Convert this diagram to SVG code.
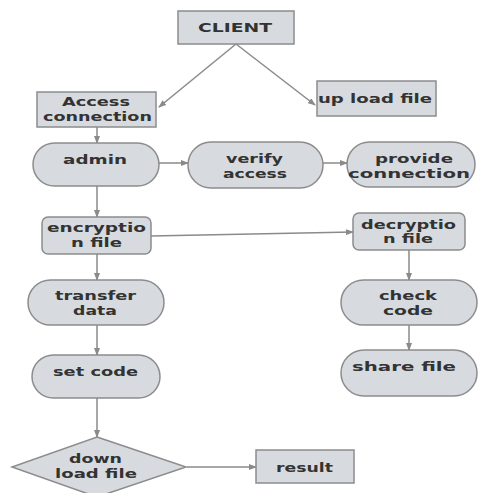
<svg xmlns="http://www.w3.org/2000/svg" width="479" height="493" viewBox="0 0 479 493">
<defs>
<marker id="ah" markerWidth="8" markerHeight="6" refX="7" refY="3" orient="auto" markerUnits="userSpaceOnUse">
<path d="M0,0 L8,3 L0,6 Z" fill="#8a8a8a"/>
</marker>
<style>
.n{fill:#d7dbdf;stroke:#8c8c8c;stroke-width:1.5}
.t{font-family:"DejaVu Sans",sans-serif;font-weight:bold;font-size:12.5px;fill:#333}
.c{stroke:#8a8a8a;stroke-width:1.5;fill:none;marker-end:url(#ah)}
</style>
</defs>
<rect width="479" height="493" fill="#fff"/>
<g id="connectors">
<line class="c" x1="236" y1="44" x2="159" y2="107"/>
<line class="c" x1="236" y1="44" x2="315" y2="105"/>
<line class="c" x1="97" y1="127" x2="97" y2="143"/>
<line class="c" x1="159" y1="163" x2="188" y2="163"/>
<line class="c" x1="323" y1="163" x2="347" y2="163"/>
<line class="c" x1="97" y1="186" x2="97" y2="217"/>
<line class="c" x1="151" y1="236" x2="353" y2="232"/>
<line class="c" x1="97" y1="254" x2="97" y2="280"/>
<line class="c" x1="409" y1="250" x2="409" y2="280"/>
<line class="c" x1="97" y1="325" x2="97" y2="355"/>
<line class="c" x1="409" y1="325" x2="409" y2="350"/>
<line class="c" x1="97" y1="398" x2="97" y2="437"/>
<line class="c" x1="187" y1="467" x2="256" y2="467"/>
</g>
<g id="client">
<rect class="n" x="178" y="11" width="116" height="33"/>
<text class="t" x="198" y="32" textLength="74" lengthAdjust="spacingAndGlyphs">CLIENT</text>
</g>
<g id="access-connection">
<rect class="n" x="37" y="92" width="119" height="35"/>
<text class="t" x="62" y="106" textLength="68" lengthAdjust="spacingAndGlyphs">Access</text>
<text class="t" x="43" y="121" textLength="109" lengthAdjust="spacingAndGlyphs">connection</text>
</g>
<g id="upload-file">
<rect class="n" x="317" y="81" width="119" height="35"/>
<text class="t" x="318" y="103" textLength="114" lengthAdjust="spacingAndGlyphs">up load file</text>
</g>
<g id="admin">
<rect class="n" x="33" y="143" width="126" height="43" rx="21.5"/>
<text class="t" x="63" y="164" textLength="64" lengthAdjust="spacingAndGlyphs">admin</text>
</g>
<g id="verify-access">
<rect class="n" x="188" y="142" width="135" height="46" rx="23"/>
<text class="t" x="226" y="163" textLength="57" lengthAdjust="spacingAndGlyphs">verify</text>
<text class="t" x="223" y="178" textLength="64" lengthAdjust="spacingAndGlyphs">access</text>
</g>
<g id="provide-connection">
<rect class="n" x="347" y="142" width="128" height="45" rx="22.5"/>
<text class="t" x="375" y="163" textLength="78" lengthAdjust="spacingAndGlyphs">provide</text>
<text class="t" x="348" y="178" textLength="122" lengthAdjust="spacingAndGlyphs">connection</text>
</g>
<g id="encryption-file">
<rect class="n" x="42" y="217" width="109" height="37" rx="6"/>
<text class="t" x="47" y="232" textLength="99" lengthAdjust="spacingAndGlyphs">encryptio</text>
<text class="t" x="71" y="247" textLength="51" lengthAdjust="spacingAndGlyphs">n file</text>
</g>
<g id="decryption-file">
<rect class="n" x="353" y="213" width="112" height="37" rx="6"/>
<text class="t" x="361" y="229" textLength="95" lengthAdjust="spacingAndGlyphs">decryptio</text>
<text class="t" x="383" y="243" textLength="50" lengthAdjust="spacingAndGlyphs">n file</text>
</g>
<g id="transfer-data">
<rect class="n" x="28" y="280" width="136" height="45" rx="22.5"/>
<text class="t" x="55" y="300" textLength="81" lengthAdjust="spacingAndGlyphs">transfer</text>
<text class="t" x="73" y="315" textLength="44" lengthAdjust="spacingAndGlyphs">data</text>
</g>
<g id="check-code">
<rect class="n" x="341" y="280" width="136" height="45" rx="22.5"/>
<text class="t" x="379" y="300" textLength="58" lengthAdjust="spacingAndGlyphs">check</text>
<text class="t" x="383" y="315" textLength="50" lengthAdjust="spacingAndGlyphs">code</text>
</g>
<g id="set-code">
<rect class="n" x="32" y="355" width="128" height="43" rx="21.5"/>
<text class="t" x="53" y="376" textLength="85" lengthAdjust="spacingAndGlyphs">set code</text>
</g>
<g id="share-file">
<rect class="n" x="341" y="350" width="136" height="46" rx="23"/>
<text class="t" x="352" y="371" textLength="104" lengthAdjust="spacingAndGlyphs">share file</text>
</g>
<g id="download-file">
<polygon class="n" points="97,437 186,467 97,497 12,467"/>
<text class="t" x="69" y="463" textLength="53" lengthAdjust="spacingAndGlyphs">down</text>
<text class="t" x="55" y="478" textLength="82" lengthAdjust="spacingAndGlyphs">load file</text>
</g>
<g id="result">
<rect class="n" x="256" y="450" width="98" height="33"/>
<text class="t" x="276" y="472" textLength="57" lengthAdjust="spacingAndGlyphs">result</text>
</g>
</svg>
